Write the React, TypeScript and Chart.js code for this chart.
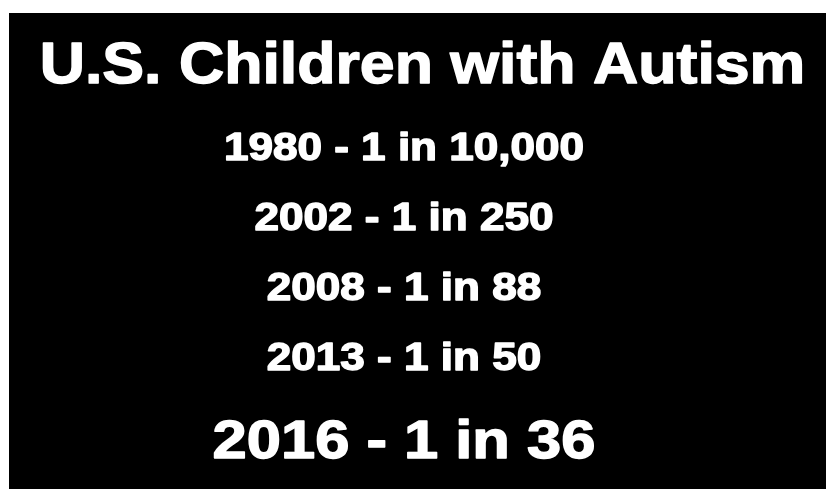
import React, { useEffect, useRef } from "react";
import { Chart, registerables } from "chart.js";

Chart.register(...registerables);

// ---- data ----
const TITLE = "U.S. Children with Autism";
const years = ["1980", "2002", "2008", "2013", "2016"];
const oneIn = [10000, 250, 88, 50, 36];

// ---- styles ----
const FONT = "'Liberation Sans', Arial, sans-serif";
const rowFontSizes = [38, 38, 38, 38, 53];
const ROW_STRETCH = 1.16;
const ROW_BASELINE_EM = 1.2;
const ROW_X_NUDGE = -13.5;
const TITLE_SIZE = 58;
const TITLE_STRETCH = 1.08;
const TITLE_BASELINE = 70.3;
const TITLE_X_NUDGE = 5;
const WEIGHT_STROKE = 1.4;

function stretchedText(ctx: CanvasRenderingContext2D, text: string, x: number, y: number, size: number, sx: number) {
  ctx.save();
  ctx.translate(x, y);
  ctx.scale(sx, 1);
  ctx.font = `bold ${size}px ${FONT}`;
  ctx.textAlign = "center";
  ctx.textBaseline = "alphabetic";
  ctx.fillStyle = "#ffffff";
  ctx.strokeStyle = "#ffffff";
  ctx.lineJoin = "round";
  ctx.lineWidth = WEIGHT_STROKE;
  ctx.fillText(text, 0, 0);
  ctx.strokeText(text, 0, 0);
  ctx.restore();
}

const textPlugin = {
  id: "textRows",
  afterDatasetsDraw(chart: any) {
    const { ctx, chartArea, width } = chart;
    const yScale = chart.scales.y;
    const cx = (chartArea.left + chartArea.right) / 2;
    stretchedText(ctx, TITLE, width / 2 + TITLE_X_NUDGE, TITLE_BASELINE, TITLE_SIZE, TITLE_STRETCH);
    years.forEach((yr, i) => {
      const y = yScale.getPixelForValue(i) + ROW_BASELINE_EM * rowFontSizes[i];
      stretchedText(
        ctx,
        `${yr} - 1 in ${oneIn[i].toLocaleString("en-US")}`,
        cx + ROW_X_NUDGE,
        y,
        rowFontSizes[i],
        ROW_STRETCH
      );
    });
  },
};

export default function App() {
  const ref = useRef<HTMLCanvasElement | null>(null);
  useEffect(() => {
    if (!ref.current) return;
    const chart = new Chart(ref.current, {
      type: "bar",
      data: {
        labels: years,
        datasets: [
          {
            data: oneIn,
            backgroundColor: "rgba(0,0,0,0)",
            borderWidth: 0,
          },
        ],
      },
      options: {
        indexAxis: "y",
        animation: false,
        responsive: true,
        maintainAspectRatio: false,
        layout: { padding: { top: 66.4, bottom: 59.6, left: 0, right: 0 } },
        plugins: {
          legend: { display: false },
          tooltip: { enabled: false },
          title: { display: false, text: TITLE },
        },
        scales: {
          x: { display: false, type: "logarithmic" },
          y: { display: false },
        },
      } as any,
      plugins: [textPlugin],
    });
    return () => chart.destroy();
  }, []);
  return (
    <div
      style={{
        position: "absolute",
        left: 9,
        top: 13,
        width: 817,
        height: 476,
        background: "#000000",
      }}
    >
      <canvas ref={ref} />
    </div>
  );
}
